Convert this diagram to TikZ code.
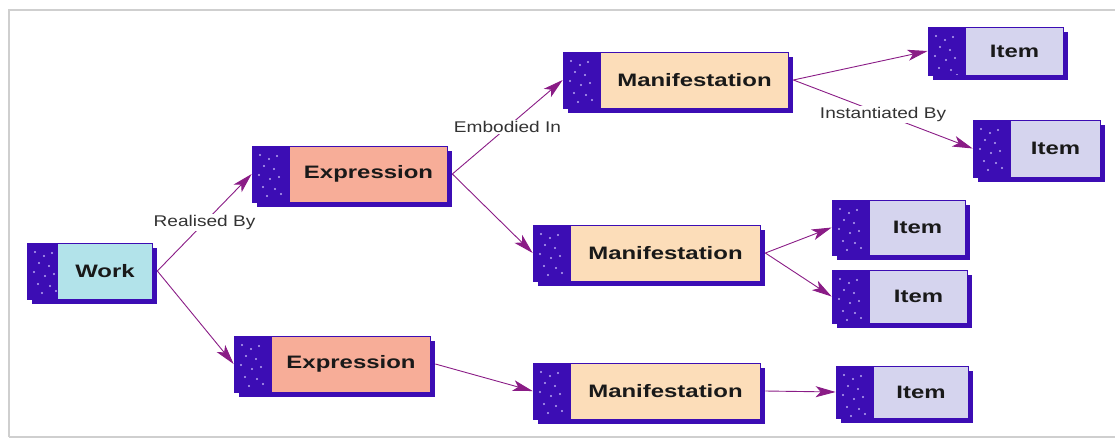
\documentclass[tikz,border=0pt]{standalone}
\usepackage{fontspec}
\setmainfont{Liberation Sans}
\newfontfamily\entfont{Liberation Sans}[FakeStretch=1.33]
\newfontfamily\relfont{Liberation Sans}[FakeStretch=1.23]
\usetikzlibrary{shadows,arrows.meta}

\definecolor{tabblue}{HTML}{3C0DB4}
\definecolor{speck}{HTML}{B9A6F2}
\definecolor{workcol}{HTML}{B2E3EA}
\definecolor{exprcol}{HTML}{F7AD98}
\definecolor{manicol}{HTML}{FCDDB9}
\definecolor{itemcol}{HTML}{D5D4EE}
\definecolor{relcol}{HTML}{8A1C86}
\definecolor{framecol}{HTML}{CFCFCF}

\tikzset{
	tab/.store in=\tabw, tab=38pt,
	entity/.style={rectangle, draw=tabblue, line width=0.7pt, inner sep=0pt,
		minimum height=56pt, text=black!90,
		font=\entfont\bfseries\fontsize{18}{20}\selectfont,
		drop shadow={shadow xshift=5pt, shadow yshift=-5pt, fill=tabblue, opacity=1},
		execute at begin node={\hspace*{\tabw}},
		path picture={
			\fill[tabblue] (path picture bounding box.north west) rectangle ([xshift=\tabw]path picture bounding box.south west);
			\foreach \p in {(8,9),(17,13),(25,10),(12,20),(22,23),(7,29),(18,33),(27,31),(11,41),(23,43),(15,50),(29,48)}
				\fill[speck] ([shift={\p}]path picture bounding box.north west) circle (1.1pt);
		}},
	rel/.style={draw=relcol, line width=0.9pt, -{Stealth[length=20pt,width=11pt,inset=5pt]}},
	rellabel/.style={fill=white, inner sep=1.5pt, text=black!80, font=\relfont\fontsize{15.5}{17}\selectfont},
}

\begin{document}
\begin{tikzpicture}[x=1pt,y=-1pt]
	\useasboundingbox (0,0) rectangle (1115,439);

	% Frame
	\draw[framecol, line width=2pt] (9,437) -- (9,10) -- (1115,10);
	\draw[framecol, line width=1.2pt] (9,437) -- (1115,437);

	% Define nodes
	\node[entity, fill=workcol, minimum width=125pt, tab=31pt]	(work) at (89.5,271) {Work};

	\node[entity, fill=exprcol, minimum width=195pt]	(exp1) at (349.5,174) {Expression};
	\node[entity, fill=exprcol, minimum width=196pt]	(exp2) at (332,364) {Expression};

	\node[entity, fill=manicol, minimum width=225pt]	(man1) at (675.5,80) {Manifestation};
	\node[entity, fill=manicol, minimum width=227pt]	(man2) at (646.5,253) {Manifestation};
	\node[entity, fill=manicol, minimum width=227pt]	(man3) at (646.5,391) {Manifestation};

	\node[entity, fill=itemcol, minimum width=135pt, minimum height=48pt]	(item1) at (995.5,51) {Item};
	\node[entity, fill=itemcol, minimum width=127pt, minimum height=57pt]	(item2) at (1036.5,148.5) {Item};
	\node[entity, fill=itemcol, minimum width=133pt, minimum height=55pt]	(item3) at (898.5,227.5) {Item};
	\node[entity, fill=itemcol, minimum width=135pt, minimum height=53pt]	(item4) at (899.5,296.5) {Item};
	\node[entity, fill=itemcol, minimum width=132pt, minimum height=52pt]	(item5) at (902,392) {Item};

	% Connect the nodes
	\draw[rel] ([xshift=5pt]work.east) -- node[rellabel] {Realised By} (exp1.west);
	\draw[rel] ([xshift=5pt]work.east) -- (exp2.west);

	\draw[rel] ([xshift=5pt]exp1.east) -- node[rellabel] {Embodied In} (man1.west);
	\draw[rel] ([xshift=5pt]exp1.east) -- (man2.west);
	\draw[rel] ([xshift=5pt]exp2.east) -- (man3.west);

	\draw[rel] ([xshift=5pt]man1.east) -- (item1.west);
	\draw[rel] ([xshift=5pt]man1.east) -- node[rellabel] {Instantiated By} (item2.west);
	\draw[rel] ([xshift=5pt]man2.east) -- (item3.west);
	\draw[rel] ([xshift=5pt]man2.east) -- (item4.west);
	\draw[rel] ([xshift=5pt]man3.east) -- (item5.west);

\end{tikzpicture}
\end{document}
